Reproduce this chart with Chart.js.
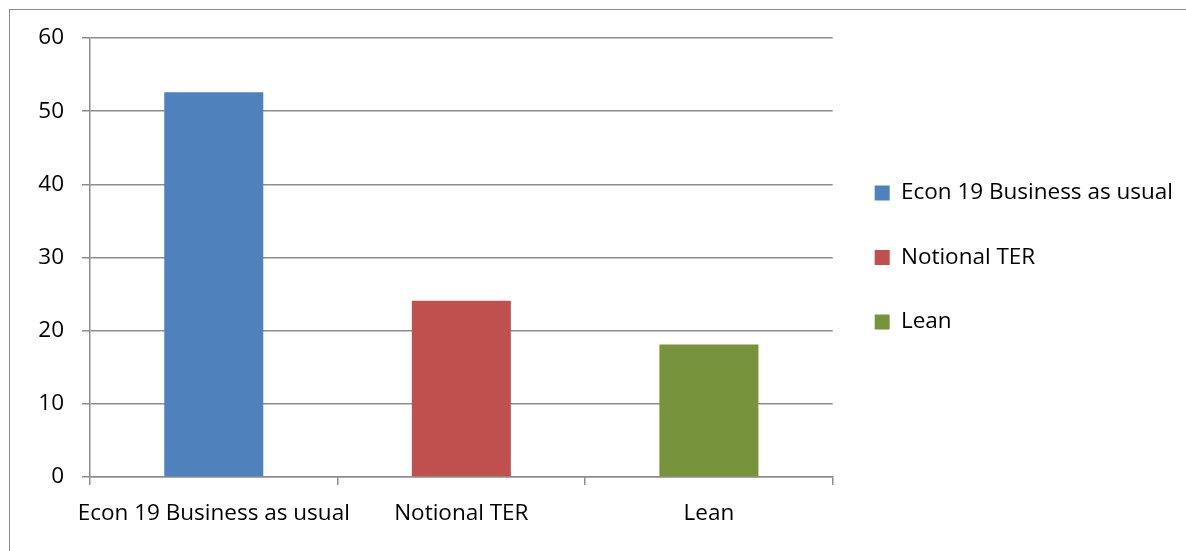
<!DOCTYPE html>
<html>
<head>
<meta charset="utf-8">
<script src="https://cdn.jsdelivr.net/npm/chart.js@4/dist/chart.umd.min.js"></script>
<style>
  html, body { margin: 0; padding: 0; background: #fff; }
  #wrap { position: relative; width: 1186px; height: 551px; overflow: hidden; }
  #frame { position: absolute; left: 9px; top: 9px; width: 1300px; height: 700px;
           border-left: 1.5px solid #8a8a8a; border-top: 1.5px solid #8a8a8a; box-sizing: border-box; }
  canvas { position: absolute; left: 0; top: 0; }
</style>
</head>
<body>
<div id="wrap">
  <div id="frame"></div>
  <canvas id="c" width="1186" height="551"></canvas>
</div>
<script>
// Scenario totals
const categories = ['Econ 19 Business as usual', 'Notional TER', 'Lean'];
const values = [52.6, 24.1, 18.1];
const barColors = ['#4F81BD', '#C0504D', '#77933C'];
const yTicks = [0, 10, 20, 30, 40, 50, 60];

const FONT = { family: '"Open Sans", Lato, sans-serif', size: 22.5 };
const GRID = '#8c8c8c';

new Chart(document.getElementById('c'), {
  type: 'bar',
  data: {
    labels: categories,
    datasets: [{
      data: values,
      backgroundColor: barColors,
      borderWidth: 0,
      barPercentage: 0.4,
      categoryPercentage: 1.0
    }]
  },
  options: {
    responsive: false,
    animation: false,
    layout: { padding: { top: 38, left: 0, right: 3, bottom: 0 } },
    plugins: {
      tooltip: { enabled: false },
      legend: {
        position: 'right',
        fullSize: false,
        maxWidth: 420,
        labels: {
          color: '#000',
          font: FONT,
          boxWidth: 15,
          boxHeight: 15,
          padding: 42,
          generateLabels: (chart) => categories.map((c, i) => ({
            text: c,
            fillStyle: barColors[i],
            strokeStyle: barColors[i],
            lineWidth: 0,
            index: i,
            datasetIndex: 0
          }))
        }
      }
    },
    scales: {
      x: {
        grid: { display: true, drawOnChartArea: false, offset: true, color: GRID, lineWidth: 1.5, tickLength: 8 },
        border: { color: GRID, width: 1.5 },
        ticks: { color: '#000', font: FONT, padding: 15, maxRotation: 0, autoSkip: false },
        afterFit: (s) => { s.height = 74; }
      },
      y: {
        min: 0,
        max: 60,
        afterBuildTicks: (s) => { s.ticks = yTicks.map(v => ({ value: v })); },
        grid: { color: GRID, lineWidth: 1.5, tickLength: 8 },
        border: { color: GRID, width: 1.5 },
        ticks: { color: '#000', font: FONT, padding: 18 },
        afterFit: (s) => { s.width = 90; }
      }
    }
  }
});
</script>
</body>
</html>
